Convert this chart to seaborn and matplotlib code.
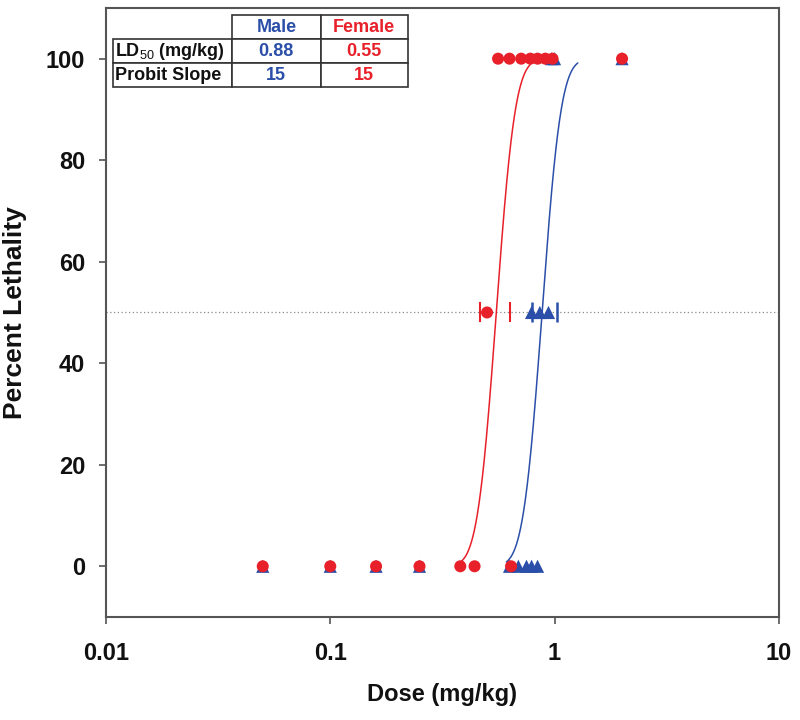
import numpy as np
import pandas as pd
import matplotlib
matplotlib.use("Agg")
import matplotlib.pyplot as plt
import seaborn as sns
from math import erf, sqrt

# ---------------- data ----------------
male_dose_0 = [0.05, 0.1, 0.16, 0.25, 0.63, 0.69, 0.75, 0.79, 0.84]
male_dose_50 = [0.79, 0.86, 0.94]
male_dose_100 = [0.97, 1.0, 2.0]
female_dose_0 = [0.05, 0.1, 0.16, 0.25, 0.38, 0.44, 0.64]
female_dose_50 = [0.5]
female_dose_100 = [0.56, 0.63, 0.71, 0.78, 0.84, 0.91, 0.98, 2.0]

male_ci = [0.79, 1.03]
female_ci = [0.465, 0.633]

sexes = ["Male", "Female"]
ld50 = [0.88, 0.55]
probit_slope = [15, 15]
curve_range = [(0.61, 1.27), (0.38, 0.78)]

x_ticks = [0.01, 0.1, 1, 10]
x_tick_labels = ["0.01", "0.1", "1", "10"]
y_ticks = [0, 20, 40, 60, 80, 100]

RED = "#E8202A"
BLUE = "#2B4FA8"

# ---------------- figure ----------------
sns.set_style("white")
plt.rcParams["font.family"] = ["Liberation Sans", "DejaVu Sans"]
plt.rcParams["mathtext.fontset"] = "custom"
plt.rcParams["mathtext.rm"] = "Liberation Sans"
plt.rcParams["mathtext.bf"] = "Liberation Sans:bold"

fig = plt.figure(figsize=(8, 7.2), dpi=100)
ax = fig.add_axes([0.1325, 0.143, 0.841, 0.846])
ax.set_xscale("log")


def probit_curve(ld, slope, lo, hi):
    d = np.logspace(np.log10(lo), np.log10(hi), 200)
    z = slope * np.log10(d / ld)
    p = np.array([0.5 * (1 + erf(v / sqrt(2))) for v in z]) * 100
    return d, p


# 50% reference line
ax.axhline(50, color="#8a8a8a", lw=0.9, ls=(0, (1, 2)), zorder=1)

# curves
for i, (sex, col) in enumerate(zip(sexes, [BLUE, RED])):
    d, p = probit_curve(ld50[i], probit_slope[i], *curve_range[i])
    sns.lineplot(x=d, y=p, ax=ax, color=col, lw=1.1, zorder=2, sort=False)

male_df = pd.DataFrame({
    "dose": male_dose_0 + male_dose_50 + male_dose_100,
    "pct": [0] * len(male_dose_0) + [50] * len(male_dose_50) + [100] * len(male_dose_100),
})
female_df = pd.DataFrame({
    "dose": female_dose_0 + female_dose_50 + female_dose_100,
    "pct": [0] * len(female_dose_0) + [50] * len(female_dose_50) + [100] * len(female_dose_100),
})
sns.scatterplot(data=male_df, x="dose", y="pct", ax=ax, marker="^", s=90,
                color=BLUE, edgecolor="none", zorder=3)
sns.scatterplot(data=female_df, x="dose", y="pct", ax=ax, marker="o", s=75,
                color=RED, edgecolor="none", zorder=4)

# CI ticks at 50%
ax.plot(male_ci, [50, 50], ls="none", marker="|", ms=14, mew=1.8, color=BLUE, zorder=3)
ax.plot(female_ci, [50, 50], ls="none", marker="|", ms=14, mew=1.5, color=RED, zorder=3)

# axes
ax.set_xlim(0.01, 10)
ax.set_ylim(-10, 110)
ax.set_xticks(x_ticks)
ax.set_xticklabels(x_tick_labels)
ax.set_yticks(y_ticks)
ax.xaxis.set_minor_locator(matplotlib.ticker.NullLocator())
ax.tick_params(axis="both", which="major", direction="out", length=5, width=1.2,
               color="#555555", labelsize=17, bottom=True, left=True, top=False, right=False)
ax.tick_params(axis="x", pad=13)
ax.tick_params(axis="y", pad=10)
for lab in ax.get_xticklabels() + ax.get_yticklabels():
    lab.set_fontweight("bold")
    lab.set_color("#111111")
for sp in ax.spines.values():
    sp.set_visible(True)
    sp.set_color("#555555")
    sp.set_linewidth(1.5)

ax.set_xlabel("Dose (mg/kg)", fontsize=17, fontweight="bold", color="#111111")
ax.set_ylabel("Percent Lethality", fontsize=19, fontweight="bold", color="#111111")
ax.xaxis.set_label_coords(0.5, -0.108)
ax.yaxis.set_label_coords(-0.117, 0.5)

# table
cell_text = [["", sexes[0], sexes[1]],
             [r"LD$_{50}$ (mg/kg)", f"{ld50[0]:.2f}", f"{ld50[1]:.2f}"],
             ["Probit Slope", f"{probit_slope[0]}", f"{probit_slope[1]}"]]
tbl = ax.table(cellText=cell_text, bbox=[0.0104, 0.870, 0.438, 0.118],
               colWidths=[119, 89, 87], cellLoc="center", zorder=6)
tbl.auto_set_font_size(False)
for (r, c), cell in tbl.get_celld().items():
    cell.set_linewidth(1.2)
    cell.set_edgecolor("#333333")
    cell.set_facecolor("white")
    t = cell.get_text()
    t.set_fontsize(13)
    t.set_fontweight("bold")
    if c == 0:
        t.set_ha("left")
        cell.PAD = 0.02
        t.set_color("#111111")
    elif c == 1:
        t.set_color(BLUE)
    else:
        t.set_color(RED)
    if r == 0 and c == 0:
        cell.visible_edges = ""

fig.savefig("out.png", dpi=100)
